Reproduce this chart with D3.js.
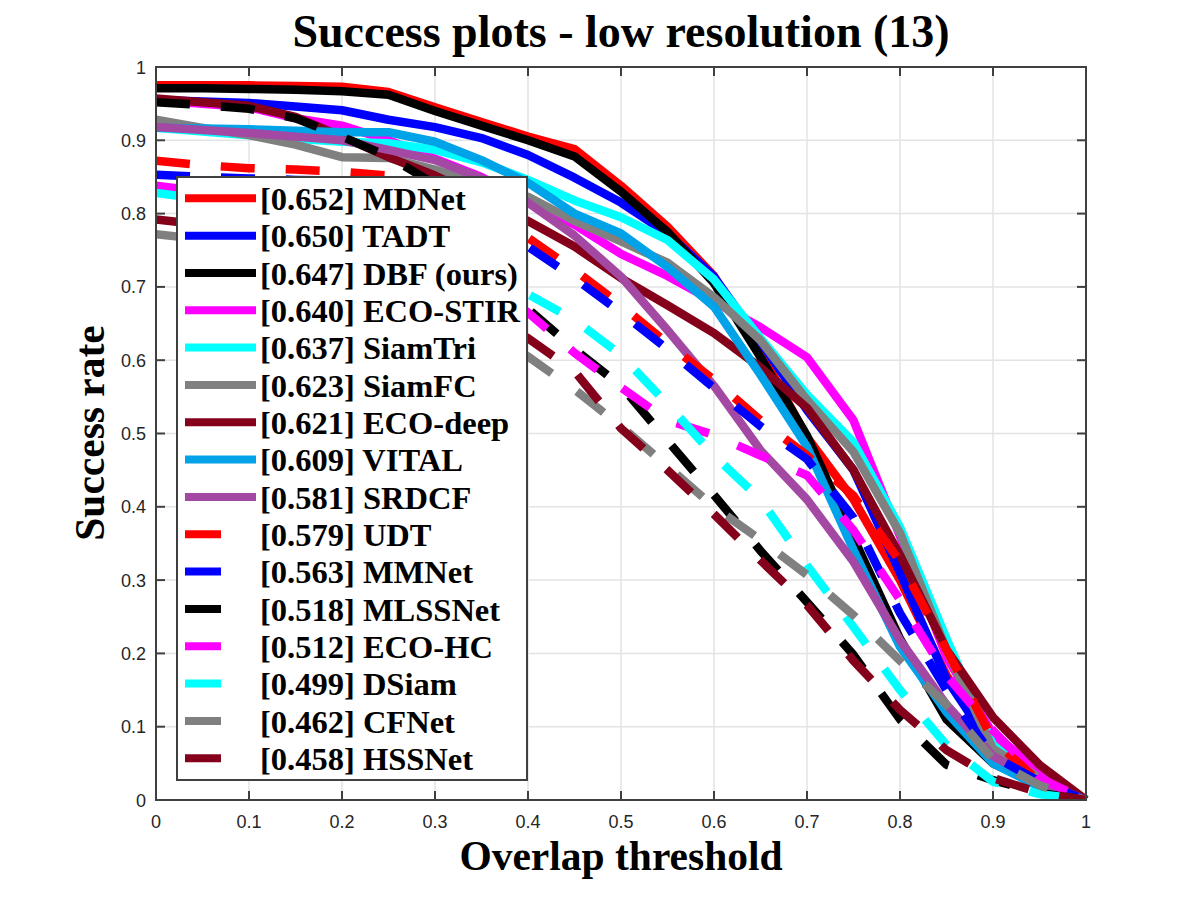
<!DOCTYPE html>
<html>
<head>
<meta charset="utf-8">
<script src="https://cdn.jsdelivr.net/npm/d3@7"></script>
<style>
  html, body { margin: 0; padding: 0; background: #fff; }
  svg { display: block; }
  .tick-label { font-family: "Liberation Sans", Arial, sans-serif; font-size: 18px; fill: #262626; }
  .serif { font-family: "Liberation Serif", "Times New Roman", serif; font-weight: bold; fill: #000; }
</style>
</head>
<body>
<svg id="chart" width="1200" height="900"></svg>
<script>
/* ============================================================
   Success plots - low resolution (13)
   ============================================================ */

// overlap thresholds 0 : 0.05 : 1
const thresholds = [0, 0.05, 0.1, 0.15, 0.2, 0.25, 0.3, 0.35, 0.4, 0.45, 0.5,
                    0.55, 0.6, 0.65, 0.7, 0.75, 0.8, 0.85, 0.9, 0.95, 1];

const trackers = ['MDNet', 'TADT', 'DBF (ours)', 'ECO-STIR', 'SiamTri', 'SiamFC', 'ECO-deep', 'VITAL',
                  'SRDCF', 'UDT', 'MMNet', 'MLSSNet', 'ECO-HC', 'DSiam', 'CFNet', 'HSSNet'];
const aucScores = ['0.652', '0.650', '0.647', '0.640', '0.637', '0.623', '0.621', '0.609',
                   '0.581', '0.579', '0.563', '0.518', '0.512', '0.499', '0.462', '0.458'];

const mdnet   = [0.975,0.975,0.975,0.974,0.973,0.966,0.945,0.925,0.905,0.888,0.838,0.782,0.715,0.612,0.495,0.410,0.300,0.170,0.075,0.030,0];
const tadt    = [0.955,0.953,0.951,0.946,0.941,0.928,0.918,0.903,0.880,0.849,0.815,0.773,0.714,0.625,0.532,0.450,0.310,0.165,0.070,0.030,0];
const dbf     = [0.971,0.971,0.970,0.969,0.967,0.962,0.940,0.920,0.900,0.878,0.830,0.775,0.705,0.604,0.497,0.358,0.220,0.110,0.050,0.020,0];
const ecoStir = [0.955,0.950,0.945,0.930,0.920,0.900,0.875,0.850,0.815,0.785,0.745,0.715,0.680,0.645,0.604,0.518,0.360,0.195,0.090,0.040,0];
const siamTri = [0.917,0.912,0.907,0.902,0.898,0.896,0.887,0.870,0.846,0.818,0.795,0.764,0.710,0.630,0.553,0.488,0.372,0.220,0.075,0.025,0];
const siamFC  = [0.928,0.917,0.907,0.894,0.877,0.876,0.860,0.840,0.823,0.790,0.762,0.733,0.686,0.627,0.546,0.475,0.364,0.205,0.070,0.030,0];
const ecoDeep = [0.957,0.952,0.947,0.932,0.905,0.877,0.852,0.822,0.790,0.755,0.712,0.675,0.637,0.590,0.535,0.450,0.334,0.205,0.113,0.048,0];
const vital   = [0.917,0.916,0.915,0.913,0.911,0.911,0.898,0.873,0.842,0.800,0.773,0.727,0.673,0.580,0.482,0.341,0.209,0.120,0.050,0.018,0];
const srdcf   = [0.918,0.914,0.910,0.905,0.900,0.887,0.873,0.848,0.815,0.770,0.714,0.641,0.565,0.477,0.410,0.325,0.218,0.130,0.060,0.025,0];
const udt     = [0.872,0.866,0.862,0.860,0.857,0.852,0.840,0.815,0.767,0.723,0.675,0.623,0.573,0.518,0.470,0.415,0.325,0.205,0.082,0.025,0];
const mmnet   = [0.853,0.850,0.848,0.846,0.845,0.840,0.828,0.800,0.755,0.712,0.665,0.615,0.562,0.510,0.465,0.385,0.255,0.150,0.060,0.025,0];
const mlssnet = [0.952,0.948,0.943,0.930,0.905,0.878,0.840,0.760,0.670,0.615,0.565,0.490,0.416,0.340,0.270,0.198,0.110,0.048,0.027,0.010,0];
const ecoHC   = [0.838,0.830,0.820,0.810,0.795,0.775,0.745,0.710,0.665,0.610,0.563,0.518,0.498,0.470,0.443,0.368,0.273,0.170,0.095,0.030,0];
const dsiam   = [0.828,0.820,0.810,0.800,0.785,0.765,0.745,0.720,0.690,0.655,0.607,0.540,0.470,0.410,0.320,0.236,0.150,0.075,0.025,0.008,0];
const cfnet   = [0.772,0.765,0.755,0.740,0.720,0.695,0.670,0.640,0.605,0.560,0.510,0.455,0.400,0.355,0.307,0.252,0.190,0.130,0.055,0.020,0];
const hssnet  = [0.792,0.785,0.775,0.760,0.740,0.715,0.690,0.660,0.630,0.585,0.507,0.450,0.390,0.327,0.266,0.190,0.123,0.068,0.030,0.010,0];

const seriesValues = [mdnet, tadt, dbf, ecoStir, siamTri, siamFC, ecoDeep, vital,
                      srdcf, udt, mmnet, mlssnet, ecoHC, dsiam, cfnet, hssnet];

const colors = ['#ff0000', '#0000ff', '#000000', '#ff00ff', '#00ffff', '#808080', '#85001a', '#00a2e8',
                '#a349a4', '#ff0000', '#0000ff', '#000000', '#ff00ff', '#00ffff', '#808080', '#85001a'];
const dashed = [false, false, false, false, false, false, false, false,
                false, true, true, true, true, true, true, true];

const tickValues = [0, 0.1, 0.2, 0.3, 0.4, 0.5, 0.6, 0.7, 0.8, 0.9, 1];

// ---- layout
const plot = { left: 156, right: 1086, top: 67, bottom: 800 };
const LINE_W = 8.5;
const DASH = '34,31';

const svg = d3.select('#chart');
svg.append('rect').attr('width', 1200).attr('height', 900).attr('fill', '#fff');

const x = d3.scaleLinear().domain([0, 1]).range([plot.left, plot.right]);
const y = d3.scaleLinear().domain([0, 1]).range([plot.bottom, plot.top]);

// grid
const grid = svg.append('g').attr('stroke', '#e3e3e3').attr('stroke-width', 1.5);
tickValues.forEach(t => {
  grid.append('line').attr('x1', x(t)).attr('x2', x(t)).attr('y1', plot.top).attr('y2', plot.bottom);
  grid.append('line').attr('x1', plot.left).attr('x2', plot.right).attr('y1', y(t)).attr('y2', y(t));
});

// curves
svg.append('clipPath').attr('id', 'clip')
  .append('rect')
  .attr('x', plot.left).attr('y', plot.top - 6)
  .attr('width', plot.right - plot.left + 6).attr('height', plot.bottom - plot.top + 6);

const line = d3.line()
  .x((d, i) => x(thresholds[i]))
  .y(d => y(d));

const curves = svg.append('g').attr('clip-path', 'url(#clip)');
seriesValues.forEach((vals, k) => {
  curves.append('path')
    .attr('d', line(vals))
    .attr('fill', 'none')
    .attr('stroke', colors[k])
    .attr('stroke-width', LINE_W)
    .attr('stroke-linejoin', 'round')
    .attr('stroke-dasharray', dashed[k] ? DASH : null);
});

// axes box + ticks
const axisCol = '#404040';
const axes = svg.append('g');
axes.append('rect')
  .attr('x', plot.left).attr('y', plot.top)
  .attr('width', plot.right - plot.left).attr('height', plot.bottom - plot.top)
  .attr('fill', 'none').attr('stroke', axisCol).attr('stroke-width', 2);

const TL = 9;
tickValues.forEach(t => {
  axes.append('line').attr('x1', x(t)).attr('x2', x(t)).attr('y1', plot.bottom).attr('y2', plot.bottom - TL)
    .attr('stroke', axisCol).attr('stroke-width', 2);
  axes.append('line').attr('x1', x(t)).attr('x2', x(t)).attr('y1', plot.top).attr('y2', plot.top + TL)
    .attr('stroke', axisCol).attr('stroke-width', 2);
  axes.append('line').attr('x1', plot.left).attr('x2', plot.left + TL).attr('y1', y(t)).attr('y2', y(t))
    .attr('stroke', axisCol).attr('stroke-width', 2);
  axes.append('line').attr('x1', plot.right).attr('x2', plot.right - TL).attr('y1', y(t)).attr('y2', y(t))
    .attr('stroke', axisCol).attr('stroke-width', 2);

  axes.append('text').attr('class', 'tick-label')
    .attr('x', x(t)).attr('y', plot.bottom + 28)
    .attr('text-anchor', 'middle')
    .text(d3.format('~g')(t));
  axes.append('text').attr('class', 'tick-label')
    .attr('x', plot.left - 10).attr('y', y(t) + 6.5)
    .attr('text-anchor', 'end')
    .text(d3.format('~g')(t));
});

// titles
svg.append('text').attr('class', 'serif')
  .attr('x', 621).attr('y', 47).attr('text-anchor', 'middle')
  .style('font-size', '46px')
  .text('Success plots - low resolution (13)');

svg.append('text').attr('class', 'serif')
  .attr('x', 621).attr('y', 870).attr('text-anchor', 'middle')
  .style('font-size', '41.5px')
  .text('Overlap threshold');

svg.append('text').attr('class', 'serif')
  .attr('transform', 'translate(104,433) rotate(-90)')
  .attr('text-anchor', 'middle')
  .style('font-size', '41.5px')
  .text('Success rate');

// legend
const legend = svg.append('g');
legend.append('rect')
  .attr('x', 177).attr('y', 177).attr('width', 350).attr('height', 603)
  .attr('fill', '#fff').attr('stroke', axisCol).attr('stroke-width', 2);

const ROW = 37.33;
trackers.forEach((name, k) => {
  const base = 210 + k * ROW;
  legend.append('line')
    .attr('x1', 185).attr('x2', 256)
    .attr('y1', base - 11.7).attr('y2', base - 11.7)
    .attr('stroke', colors[k]).attr('stroke-width', 8)
    .attr('stroke-dasharray', dashed[k] ? '36,40' : null);
  legend.append('text').attr('class', 'serif')
    .attr('x', 260).attr('y', base)
    .style('font-size', '32.5px')
    .text(`[${aucScores[k]}] ${name}`);
});
</script>
</body>
</html>
